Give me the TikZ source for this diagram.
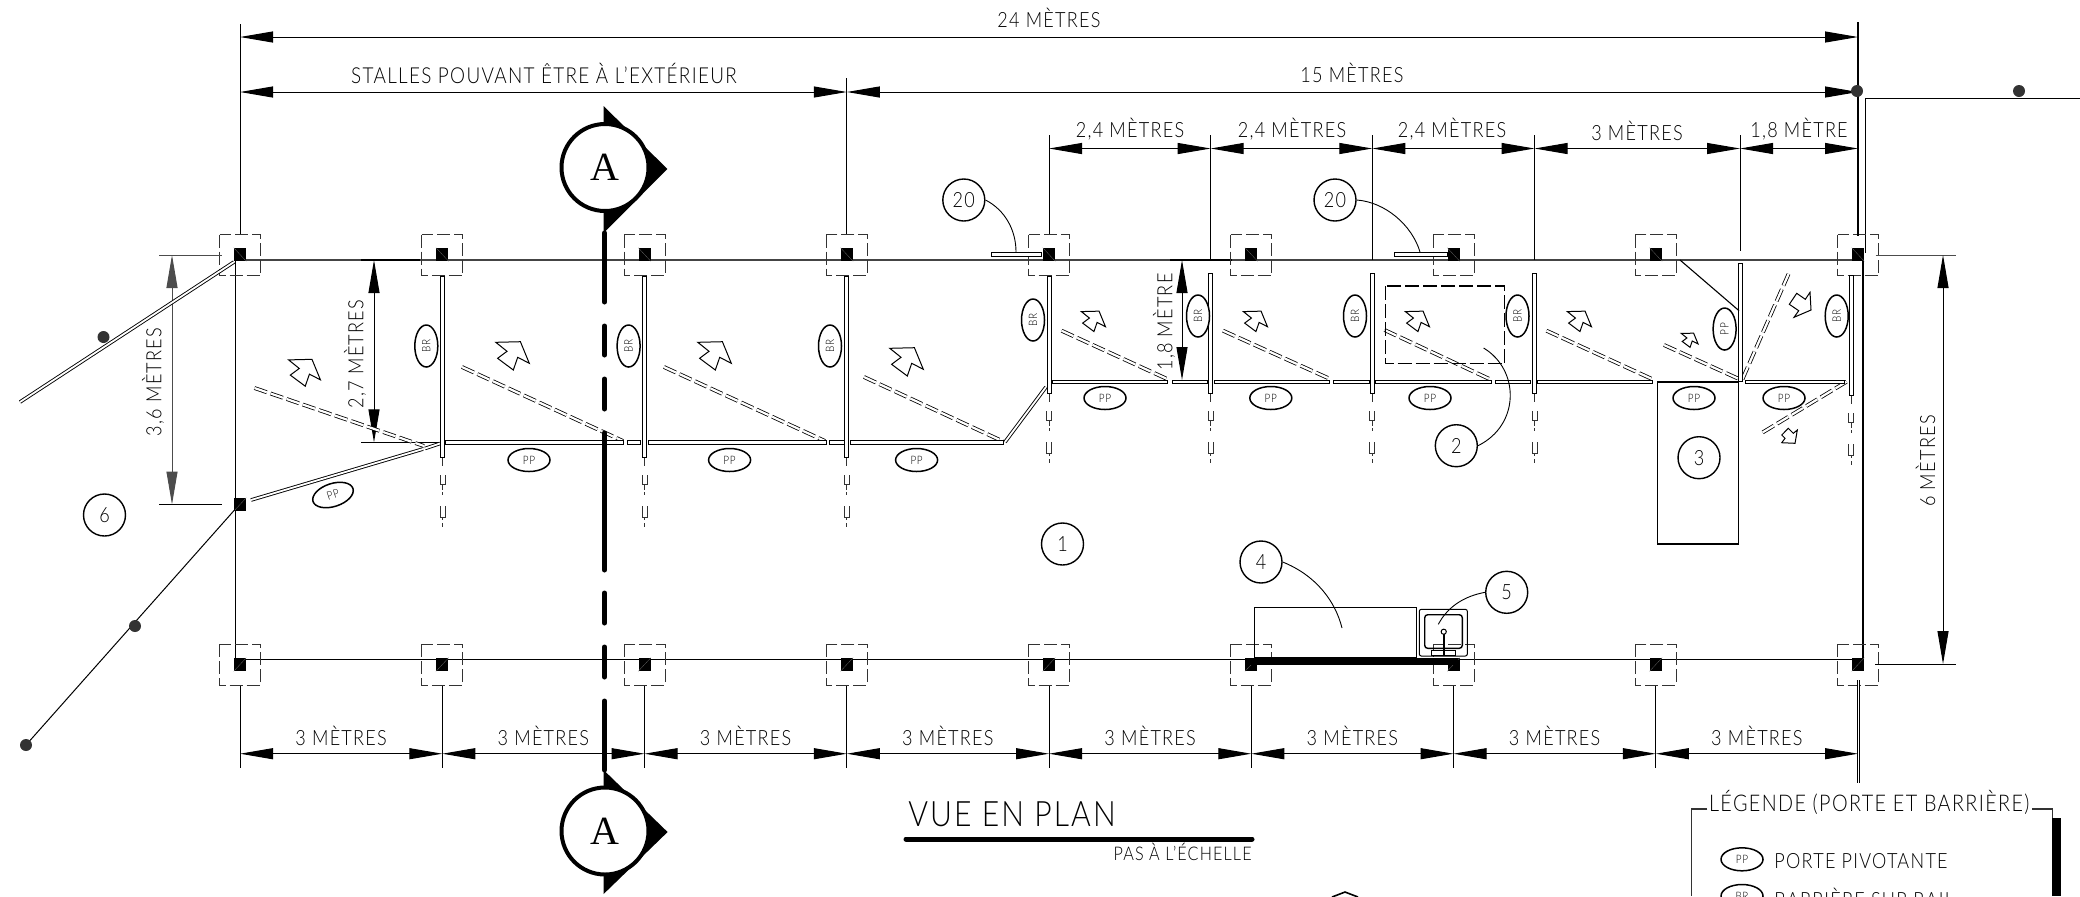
\documentclass[tikz,border=0pt]{standalone}
\usepackage{fontspec}
\usetikzlibrary{arrows.meta,shapes.geometric}
\setmainfont{Lato}[UprightFont=* Light,FakeStretch=0.86,LetterSpace=6]
\newfontfamily\serA{Liberation Serif}
\definecolor{wallc}{HTML}{444444}
\definecolor{dotc}{HTML}{333333}
\tikzset{
 x=0.5pt,y=-0.5pt,
 thinl/.style={line width=0.5pt,black},
 dim/.style={line width=0.5pt,black,{Triangle[length=16.5pt,width=5.5pt]}-{Triangle[length=16.5pt,width=5.5pt]}},
 dimtext/.style={font=\fontsize{10.5}{12}\selectfont,inner sep=0pt},
 ball/.style={circle,draw,line width=0.7pt,minimum size=21pt,inner sep=0pt,font=\fontsize{10.5}{12}\selectfont,fill=white},
 oval/.style={ellipse,draw,line width=0.75pt,minimum width=21pt,minimum height=11.5pt,inner sep=0pt,font=\fontsize{5.8}{6}\selectfont,fill=white},
 bigA/.style={circle,draw,line width=2pt,minimum size=43.5pt,inner sep=0pt,fill=white,font=\serA\fontsize{20}{20}\selectfont},
 post/.style={rectangle,fill=black,minimum width=6pt,minimum height=6.5pt,inner sep=0pt},
 dbox/.style={line width=0.5pt,draw=black!80,dash pattern=on 6.5pt off 2pt},
 gatebar/.style={line width=0.5pt,draw=black,fill=white},
 opendash/.style={line width=0.4pt,black,double=white,double distance=1.1pt,dash pattern=on 6.5pt off 2pt},
 dgate/.style={line width=0.45pt,black,double=white,double distance=0.9pt},
 cutline/.style={line width=2.5pt,black,line cap=round},
 flow/.style={line width=0.5pt,draw=black,fill=white},
 dotn/.style={circle,fill=dotc,minimum size=6pt,inner sep=0pt},
 leader/.style={line width=0.45pt,black},
}
\newcommand{\blockarr}[3]{\draw[flow,shift={(#1,#2)},scale=#3] (-16.2,-11.7)--(8.4,-12.3)--(17.3,9.3)--(5.7,3.3)--(1.3,16)--(-14.4,4.3)--(-5,-2.7)--cycle;}
\newcommand{\lowpat}[2]{%
 \draw[line width=0.5pt,black!80] (#1,#2+1)--(#1,#2+9) (#1,#2+27)--(#1,#2+33) (#1,#2+35)--(#1,#2+38) (#1,#2+60)--(#1,#2+63) (#1,#2+66)--(#1,#2+70);
 \draw[line width=0.5pt,black!80] (#1-2.5,#2+18)--(#1-2.5,#2+27)--(#1+2.5,#2+27)--(#1+2.5,#2+18);
 \draw[line width=0.5pt,black!80] (#1-2.5,#2+49)--(#1-2.5,#2+60)--(#1+2.5,#2+60)--(#1+2.5,#2+49);
}
\newcommand{\hgate}[3]{\draw[gatebar] (#1,#3-1.8) rectangle (#2,#3+1.8);}
\newcommand{\vgate}[3]{\draw[gatebar] (#1-2,#2) rectangle (#1+2,#3);}
\begin{document}
\begin{tikzpicture}
\useasboundingbox (0,0) rectangle (2080,896);
\clip (0,0) rectangle (2080,896);

% column coordinates
\foreach \n/\xx in {1/240,2/442.3,3/644.5,4/846.8,5/1049,6/1251.3,7/1453.5,8/1655.8,9/1858}{
  \coordinate (tp\n) at (\xx,254.5);
  \coordinate (bp\n) at (\xx,664.5);
  \coordinate (bd\n) at (\xx,753.7);
  \coordinate (be\n) at (\xx,768);
  \coordinate (bs\n) at (\xx,686);
}
% walls
\draw[line width=1pt,wallc] (235,259.5) -- (1863,259.5);
\draw[line width=1pt,black] (361,259.5) -- (420,259.5) (1170,259.5) -- (1232,259.5);
\draw[line width=0.5pt,black] (235,659) -- (1863,659);
\draw[line width=0.7pt,black] (235.3,260) -- (235.3,659);
\draw[line width=0.55pt,black] (1863,253) -- (1863,659);
\draw[line width=0.5pt,black] (1865,98) -- (1865,253);
\draw[line width=0.5pt,black] (1865,98) -- (2080,98);

% posts with dashed footprint
\foreach \n in {1,...,9}{
  \draw[dbox] ([shift={(-20.5,-20)}]tp\n) rectangle ([shift={(20.5,21)}]tp\n);
  \draw[dbox] ([shift={(-20.5,-20.5)}]bp\n) rectangle ([shift={(20.5,20.5)}]bp\n);
  \node[post] (pt\n) at (tp\n) {};
  \node[post] (pb\n) at (bp\n) {};
  \draw[black!55,line width=0.12pt] (pt\n.north west)--(pt\n.south east);
  \draw[black!55,line width=0.12pt] (pb\n.south west)--(pb\n.north east);
}
\node[post] (pmid) at (240,504.5) {};
\draw[black!55,line width=0.12pt] (pmid.south west)--(pmid.north east);

% bottom dimension chain
\foreach \n in {1,...,8}{ \draw[thinl] (bs\n) -- (be\n); }
\draw[line width=0.4pt,black,double=white,double distance=0.7pt] (1858.5,680) -- (1858.5,783);
\foreach \a/\b in {1/2,2/3,3/4,4/5,5/6,6/7,7/8,8/9}{
  \draw[dim] (bd\a) -- (bd\b);
  \path (bd\a) -- (bd\b) node[midway,dimtext,yshift=9.1pt] (bt\a) {3 MÈTRES};
}

% top dimension chains
\coordinate (ex1a) at (240,24); \coordinate (ex1b) at (240,234);
\coordinate (ex4a) at (846.8,78); \coordinate (ex4b) at (846.8,234);
\coordinate (ex9a) at (1858,22); \coordinate (ex9b) at (1858,236);
\draw[thinl] (ex1a)--(ex1b);
\draw[line width=0.6pt,black] (ex4a)--(ex4b);
\draw[line width=0.6pt,black] (ex9a)--(ex9b);
\coordinate (d24a) at (240,37); \coordinate (d24b) at (1858,37);
\draw[dim] (d24a) -- node[midway,dimtext,yshift=9.7pt] (t24) {24 MÈTRES} (d24b);
\coordinate (d2a) at (240,92); \coordinate (d2b) at (846.8,92); \coordinate (d2c) at (1858,92);
\draw[dim] (d2a) -- (d2b);
\draw[dim] (d2b) -- (d2c);
\node[dimtext,font=\fontsize{11}{12}\selectfont] (tst) at (544,73) {STALLES POUVANT ÊTRE À L’EXTÉRIEUR};
\node[dimtext] (t15) at (1352,73) {15 MÈTRES};

\foreach \n/\xx/\yy in {a/1049/234,b/1210.7/260,c/1372.3/260,d/1534.5/260,e/1740/251,f/1858/236}{
  \coordinate (tx\n) at (\xx,148.5);
  \ifx\n f\else \coordinate (txt\n) at (\xx,135); \coordinate (txb\n) at (\xx,\yy); \draw[line width=0.5pt,black] (txt\n)--(txb\n);\fi
}
\draw[dim] (txa)--(txb);
\draw[dim] (txb)--(txc);
\draw[dim] (txc)--(txd);
\draw[dim] (txd)--(txe);
\draw[dim] (txe)--(txf);
\node[dimtext] (t1) at (1130,129) {2,4 MÈTRES};
\node[dimtext] (t2) at (1292,129) {2,4 MÈTRES};
\node[dimtext] (t3) at (1452,129) {2,4 MÈTRES};
\node[dimtext] (t4) at (1637,131) {3 MÈTRES};
\node[dimtext] (t5) at (1799,129) {1,8 MÈTRE};

% vertical dimensions
\coordinate (a36) at (172,255); \coordinate (b36) at (172,504.5);
\draw[line width=0.5pt,black!70] (159,255)--(222,255);
\draw[thinl] (159,504.5)--(222,504.5);
\draw[dim,black!70] (a36)--(b36);
\node[dimtext,rotate=90] (t36) at (153,382) {3,6 MÈTRES};
\coordinate (a27) at (374,260); \coordinate (b27) at (374,442.4);
\draw[thinl] (361,442.4)--(440,442.4);
\draw[dim] (a27)--(b27);
\node[dimtext,rotate=90] (t27) at (355,354) {2,7 MÈTRES};
\coordinate (a18) at (1182,260); \coordinate (b18) at (1182,380);
\draw[dim] (a18)--(b18);
\node[dimtext,rotate=90] (t18) at (1164,322) {1,8 MÈTRE};
\coordinate (a6) at (1943,255); \coordinate (b6) at (1943,664);
\draw[line width=0.5pt,black!70] (1875.5,255)--(1956,255);
\draw[thinl] (1875,664)--(1956,664);
\draw[dim] (a6)--(b6);
\node[dimtext,rotate=90] (t6) at (1925.5,461) {6 MÈTRES};

% left fences
\draw[dgate] (234,262) -- (20,402);
\draw[thinl] (234.5,510) -- (26,745);
\node[dotn] (dot1) at (103.5,337) {};
\node[dotn] (dot2) at (135,626) {};
\node[dotn] (dot3) at (26,745) {};
\node[dotn] (dot4) at (1857,91) {};
\node[dotn] (dot5) at (2019,91) {};

% open (dashed) gates
\draw[opendash] (254.5,388) -- (424,446);
\draw[opendash] (462,367) -- (623,441);
\draw[opendash] (664,367) -- (825,441);
\draw[opendash] (864,377) -- (1003.6,441.7);
\draw[opendash] (1061.6,330.7) -- (1166.5,378.7);
\draw[opendash] (1223,330.7) -- (1329.5,378.7);
\draw[opendash] (1384.5,330) -- (1491.6,380);
\draw[opendash] (1546.5,330.7) -- (1652,379);
\draw[opendash] (1664,345) -- (1739,379);
\draw[opendash] (1742.5,379) -- (1788.5,274);
\draw[opendash] (1846.5,381.7) -- (1760,434);

% closed gates
\hgate{445}{623.6}{442.6}
\hgate{627}{640.6}{442.6}
\hgate{648}{826}{442.6}
\hgate{829}{844}{442.6}
\hgate{850}{1003.6}{442.6}
\hgate{1052.7}{1167.7}{382}
\hgate{1172}{1207.6}{382}
\hgate{1214}{1329.5}{382}
\hgate{1333}{1369.6}{382}
\hgate{1375}{1491.6}{382}
\hgate{1495.6}{1530.4}{382}
\hgate{1537}{1652.3}{382}
\hgate{1745}{1844}{382}
\draw[dgate] (1005,442) -- (1046,387);
\draw[dgate] (251,500) -- (423,449);
\draw[dgate] (425,448.5) -- (440,443.5);
\draw[line width=0.5pt,black] (1172,380.6) -- (1200,380.6);

% partitions
\foreach \xx in {442.5,644.6,846.8}{ \vgate{\xx}{276}{457}\lowpat{\xx}{457} }
\foreach \xx/\yy in {1049/276,1210.7/273,1372.3/273,1534.5/273}{ \vgate{\xx}{\yy}{393}\lowpat{\xx}{393} }
\vgate{1740.3}{263}{381}
\vgate{1851}{275}{395}\lowpat{1851}{395}
\draw[line width=0.55pt,black] (1680,260) -- (1739,310.7);

% flow arrows
\blockarr{304}{371}{0.95}
\blockarr{512}{354}{1}
\blockarr{714}{354}{1}
\blockarr{906}{360}{1}
\blockarr{1093}{320}{0.72}
\blockarr{1255}{320}{0.72}
\blockarr{1417}{320}{0.72}
\blockarr{1579}{320}{0.72}
\blockarr{1689.4}{339.3}{0.5}
\draw[flow] (1796.7,293.3)--(1805.3,299.3)--(1810,292.3)--(1811,310)--(1794,317.3)--(1798.7,310.7)--(1789.3,304.3)--cycle;
\draw[flow] (1788.3,428.3)--(1793.3,433.3)--(1797.3,430)--(1795,443.3)--(1781.7,442.7)--(1785,438.3)--(1781.7,435)--cycle;

% equipment
\draw[line width=0.7pt,black,dash pattern=on 7pt off 2pt] (1385.4,286) rectangle (1504.6,363.7);
\draw[line width=0.7pt,black] (1657.7,382) rectangle (1738.5,544);
\draw[line width=0.7pt,black] (1254.7,658) rectangle (1416.7,607.7);
\fill[black] (1246,658) rectangle (1458,665);
\draw[line width=0.5pt,black,rounded corners=1pt] (1419.3,609.3) rectangle (1467.3,656);
\draw[line width=0.7pt,black,rounded corners=1.5pt] (1424.7,614.7) rectangle (1462.3,648.3);
\draw[line width=0.5pt,black,fill=white] (1431.7,650) rectangle (1455,655);
\draw[line width=1pt,black] (1443.5,634) -- (1443.5,656);
\draw[line width=0.5pt,black,fill=white] (1443.7,631.7) circle (2.6);

% section line and markers
\draw[cutline] (604.5,233) -- (604.5,302);
\draw[cutline] (604.5,326) -- (604.5,355);
\draw[cutline] (604.5,379) -- (604.5,409);
\draw[cutline] (604.5,433) -- (604.5,570);
\draw[cutline] (604.5,593) -- (604.5,623);
\draw[cutline] (604.5,647) -- (604.5,677);
\draw[cutline] (604.5,701) -- (604.5,770);
\fill[black] (603.6,106) -- (667.4,169) -- (603.6,233) -- cycle;
\fill[black] (603.6,770) -- (667.6,832) -- (603.6,894) -- cycle;
\node[bigA] (secA) at (605,167.5) {A};
\node[bigA] (secB) at (605,831) {A};

% balloons
\node[ball] (b20a) at (963.8,200) {20};
\node[ball] (b20b) at (1335,200) {20};
\node[ball] (b6) at (104.5,515) {6};
\node[ball] (b1) at (1062.5,544) {1};
\node[ball] (b2) at (1456.3,445.7) {2};
\node[ball] (b3) at (1699,457.7) {3};
\node[ball] (b4) at (1261,562) {4};
\node[ball] (b5) at (1506.7,592.3) {5};
\coordinate (l20a) at (1016,252);
\coordinate (l20b) at (1420,252);
\coordinate (l2) at (1483.6,348);
\coordinate (l4) at (1342,628);
\coordinate (l5) at (1438.3,624.3);
\draw[gatebar] (991,252.3) rectangle (1041.5,256.7);
\draw[gatebar] (1394.6,252.3) rectangle (1447,256.7);
\draw[leader] (b20a.east) .. controls (1005,210) and (1016,230) .. (l20a);
\draw[leader] (b20b.east) .. controls (1385,202) and (1412,225) .. (l20b);
\draw[leader] (b2.east) .. controls (1520,425) and (1520,370) .. (l2);
\draw[leader] (b4.east) .. controls (1315,575) and (1335,600) .. (l4);
\draw[leader] (b5.west) .. controls (1465,596) and (1448,606) .. (l5);

% gate labels
\foreach \nm/\xx/\yy in {p1/529/460,p2/729.6/460,p3/916.6/460,p4/1105/398,p5/1270.8/398,p6/1430/398,p7/1694/398,p8/1784/398}{
  \node[oval] (\nm) at (\xx,\yy) {PP};
}
\node[oval,rotate=18] (p9) at (333,495) {PP};
\node[oval,rotate=90] (p10) at (1724.6,329) {PP};
\foreach \nm/\xx/\yy in {r1/426.3/346,r2/628.6/346,r3/830/346,r4/1033/320,r5/1198/316,r6/1355/316,r7/1517.5/316,r8/1836.7/316}{
  \node[oval,rotate=90] (\nm) at (\xx,\yy) {BR};
}

% title
\node[inner sep=0pt,font=\fontsize{17.5}{20}\selectfont] (title) at (1012,814) {VUE EN PLAN};
\draw[line width=2.5pt,black,line cap=round] (906,839) -- (1252,839);
\node[inner sep=0pt,anchor=east,font=\fontsize{9.4}{10}\selectfont] (sub) at (1252,852) {PAS À L’ÉCHELLE};

% legend
\node[inner sep=0pt,font=\fontsize{11.5}{13}\selectfont] (legt) at (1869.3,802) {LÉGENDE (PORTE ET BARRIÈRE)};
\draw[line width=0.6pt,black!80] (1707.3,809) -- (1691.7,809) -- (1691.7,896);
\draw[line width=0.6pt,black!80] (2032,809) -- (2052.3,809) -- (2052.3,896);
\fill[black] (2052.3,817.7) rectangle (2061,896);
\node[oval] (lpp) at (1742,859.3) {PP};
\node[oval] (lbr) at (1742,896) {BR};
\node[inner sep=0pt,anchor=west,font=\fontsize{10.5}{12}\selectfont] (lt1) at (1774,860.7) {PORTE PIVOTANTE};
\node[inner sep=0pt,anchor=west,font=\fontsize{10.5}{12}\selectfont] (lt2) at (1774,898) {BARRIÈRE SUR RAIL};
% cropped symbol at the bottom edge
\draw[line width=0.8pt,black] (1332,897) -- (1345,892) -- (1358,897);
\end{tikzpicture}
\end{document}
